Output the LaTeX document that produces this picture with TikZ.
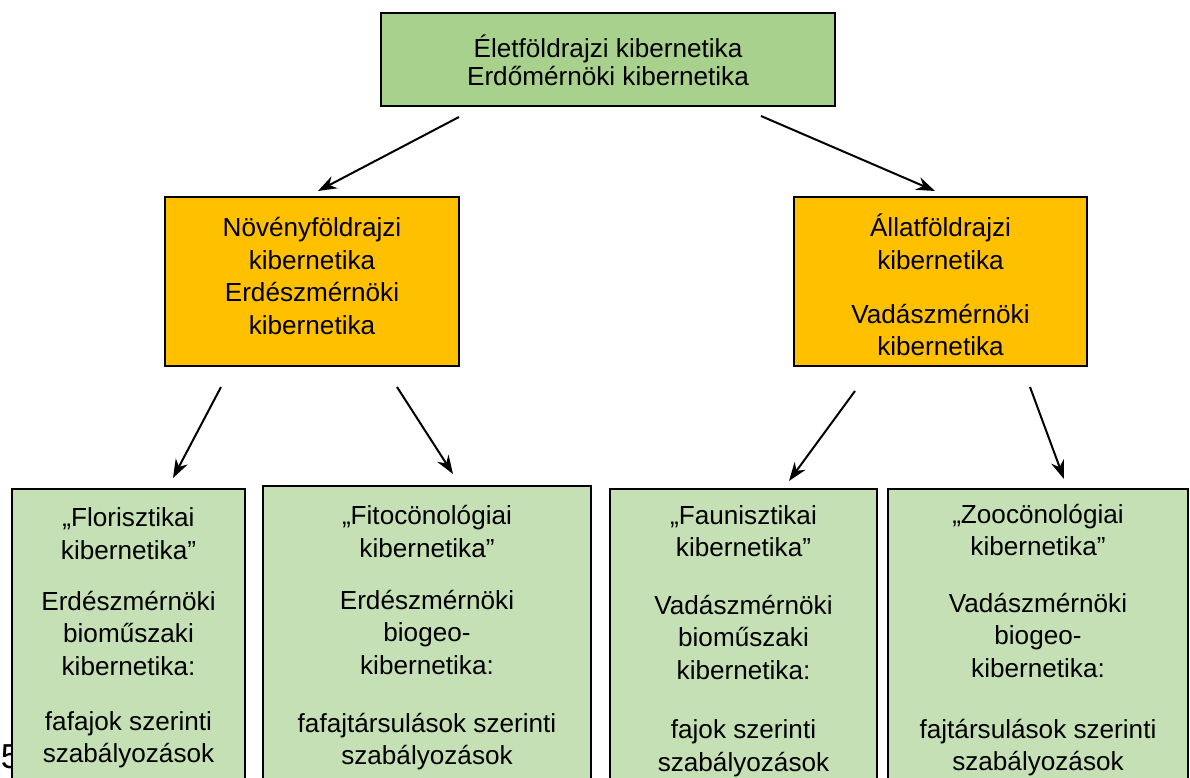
\documentclass[tikz,border=0pt]{standalone}
\usepackage{fontspec}
\setmainfont{Liberation Sans}
\usetikzlibrary{arrows.meta}
\definecolor{topgreen}{HTML}{A9D18E}
\definecolor{leafgreen}{HTML}{C5E0B4}
\definecolor{amber}{HTML}{FFC000}

\begin{document}
\begin{tikzpicture}[x=0.75pt,y=-0.75pt,
  box/.style={draw=black, line width=1.8pt, inner sep=0pt, outer sep=0pt, anchor=north west},
  txt/.style={align=center, inner sep=0pt, text=black, font=\fontsize{19.6}{24.3}\selectfont},
  link/.style={line width=1.5pt, -{Stealth[length=14pt,width=10pt,inset=4.5pt]}}
]
\useasboundingbox (0,0) rectangle (1190,778);
\clip (0,0) rectangle (1190,778);

% page number, partly covered by the first leaf box
\node[anchor=base west, inner sep=0pt, font=\fontsize{26}{30}\selectfont] (pagenum) at (0.5,768) {5};

% boxes
\node[box, fill=topgreen, minimum width=340.5pt, minimum height=69.75pt] (root) at (381,13) {};
\node[box, fill=amber, minimum width=220.5pt, minimum height=126.75pt] (plant) at (165,197) {};
\node[box, fill=amber, minimum width=219.75pt, minimum height=126.75pt] (animal) at (794,197) {};
\node[box, fill=leafgreen, minimum width=174.75pt, minimum height=233.25pt] (flora) at (12,489) {};
\node[box, fill=leafgreen, minimum width=246pt, minimum height=235.5pt] (phyto) at (263,486) {};
\node[box, fill=leafgreen, minimum width=200.25pt, minimum height=233.25pt] (fauna) at (610,489) {};
\node[box, fill=leafgreen, minimum width=225pt, minimum height=233.25pt] (zoo) at (888,489) {};

% texts
\node[txt, font=\fontsize{19.6}{21}\selectfont] (rootT) at (608,60) {Életföldrajzi kibernetika\\Erdőmérnöki kibernetika};
\node[txt, font=\fontsize{19.6}{24.5}\selectfont] (plantT) at (312,276) {Növényföldrajzi\\kibernetika\\Erdészmérnöki\\kibernetika};
\node[txt] (animalT) at (940.5,285) {Állatföldrajzi\\kibernetika\\[16pt]Vadászmérnöki\\kibernetika};
\node[txt] (floraT) at (128.5,638) {„Florisztikai\\kibernetika”\\[14pt]Erdészmérnöki\\bioműszaki\\kibernetika:\\[17pt]fafajok szerinti\\szabályozások};
\node[txt] (phytoT) at (427,638) {„Fitocönológiai\\kibernetika”\\[14.6pt]Erdészmérnöki\\biogeo-\\kibernetika:\\[19.5pt]fafajtársulások szerinti\\szabályozások};
\node[txt] (faunaT) at (743.5,641) {„Faunisztikai\\kibernetika”\\[19pt]Vadászmérnöki\\bioműszaki\\kibernetika:\\[20.5pt]fajok szerinti\\szabályozások};
\node[txt] (zooT) at (1038,640) {„Zoocönológiai\\kibernetika”\\[18.4pt]Vadászmérnöki\\biogeo-\\kibernetika:\\[21.4pt]fajtársulások szerinti\\szabályozások};

% arrow end points
\coordinate (a1s) at (459,117); \coordinate (a1e) at (318,191);
\coordinate (a2s) at (761,116); \coordinate (a2e) at (935,191);
\coordinate (a3s) at (221,387); \coordinate (a3e) at (173,478);
\coordinate (a4s) at (397,387); \coordinate (a4e) at (453,474);
\coordinate (a5s) at (855,391); \coordinate (a5e) at (789,481);
\coordinate (a6s) at (1030,387); \coordinate (a6e) at (1064,479);

\draw[link] (a1s) -- (a1e);
\draw[link] (a2s) -- (a2e);
\draw[link] (a3s) -- (a3e);
\draw[link] (a4s) -- (a4e);
\draw[link] (a5s) -- (a5e);
\draw[link] (a6s) -- (a6e);
\end{tikzpicture}
\end{document}
